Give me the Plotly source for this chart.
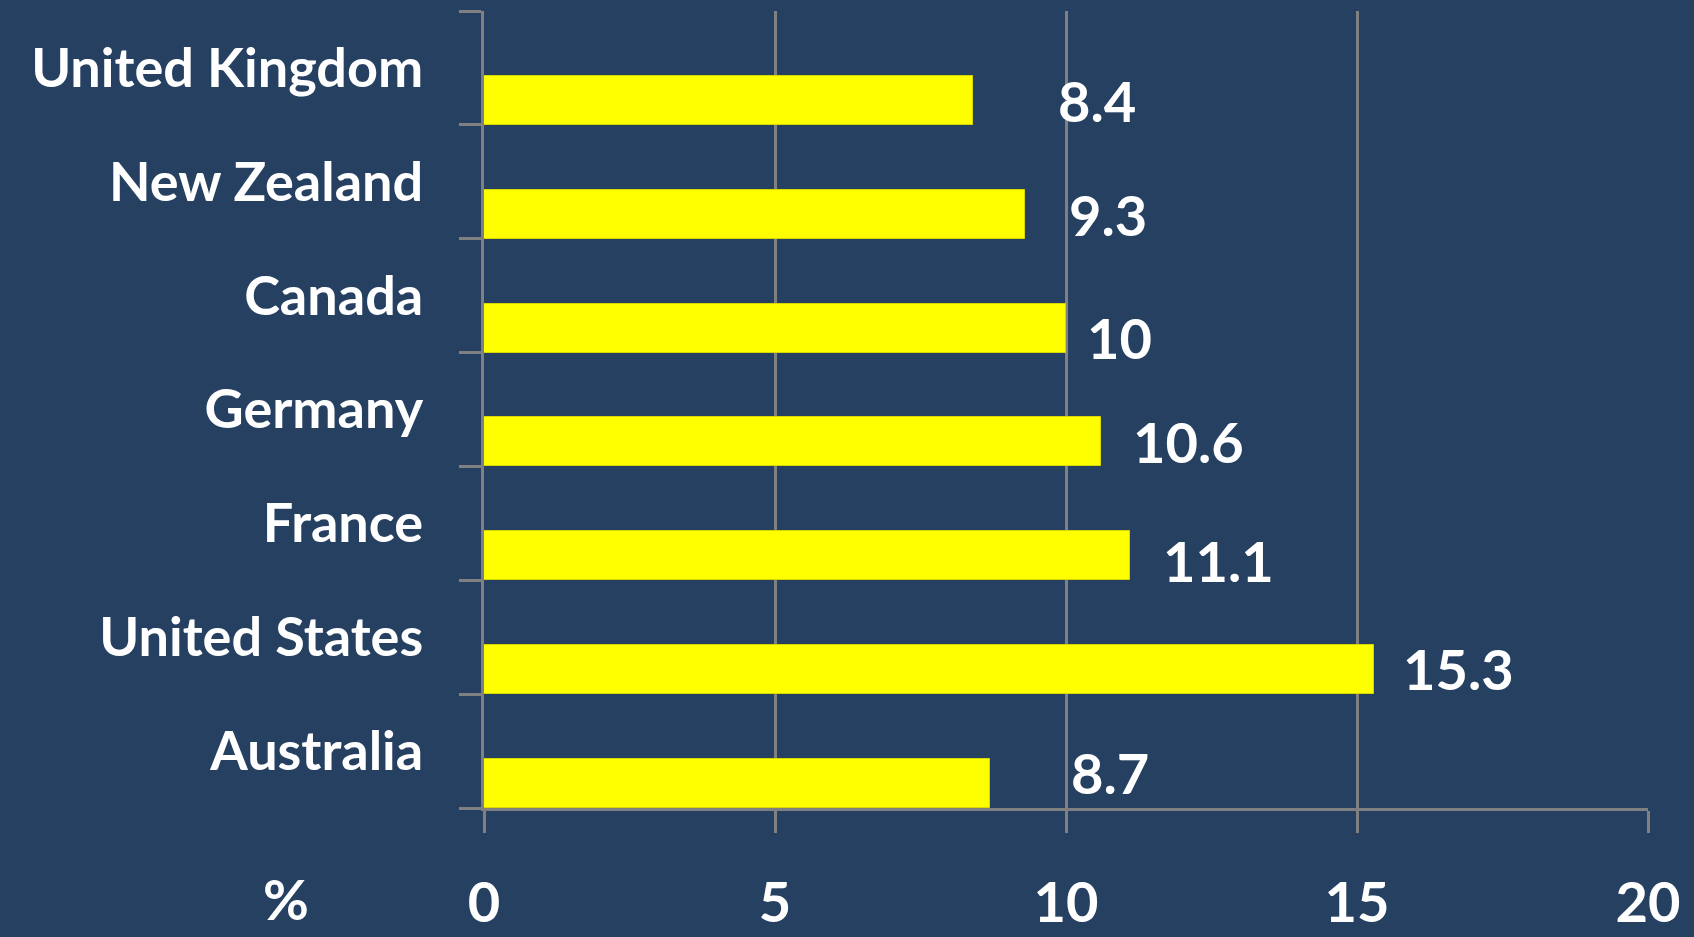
import plotly.graph_objects as go

countries = ["Australia", "United States", "France", "Germany", "Canada", "New Zealand", "United Kingdom"]
values = [8.7, 15.3, 11.1, 10.6, 10, 9.3, 8.4]
value_labels = ["8.7", "15.3", "11.1", "10.6", "10", "9.3", "8.4"]
x_ticks = [0, 5, 10, 15, 20]

# label nudges (pixels, positive = right / up), styling only
label_xshift = [79, 27, 31, 30, 19, 42, 83]
label_yshift = [11, 1, -5, 0, -9, 0, 0]

BG = "#264062"
GRID = "#808080"
FONT = "Lato"
BAR_W = 0.43
BAR_OFF = -0.5

fig = go.Figure()
fig.add_trace(go.Bar(
    y=countries, x=values, orientation="h",
    width=BAR_W, offset=BAR_OFF,
    marker=dict(color="#FFFF00", line=dict(color="#D8D800", width=1)),
    hoverinfo="x+y",
))

for i, (c, v, t) in enumerate(zip(countries, values, value_labels)):
    fig.add_annotation(
        x=v, y=i + BAR_OFF + BAR_W / 2, xref="x", yref="y",
        text=t, showarrow=False, xanchor="left", yanchor="middle",
        xshift=label_xshift[i], yshift=label_yshift[i],
        font=dict(family=FONT, size=56, color="white", weight=700),
    )

fig.add_annotation(
    x=-0.170, y=-0.113, xref="paper", yref="paper", text="%", showarrow=False,
    xanchor="center", yanchor="middle",
    font=dict(family=FONT, size=56, color="white", weight=700),
)

fig.update_layout(
    width=1694, height=937,
    paper_bgcolor=BG, plot_bgcolor=BG,
    margin=dict(l=484, r=46, t=11, b=129, autoexpand=False),
    showlegend=False,
    bargap=0,
    xaxis=dict(
        range=[0, 20], tickvals=x_ticks, ticktext=[str(t) for t in x_ticks],
        showgrid=True, gridcolor=GRID, gridwidth=3,
        zeroline=False, showline=True, linecolor=GRID, linewidth=3,
        ticks="outside", ticklen=22, tickwidth=3, tickcolor=GRID,
        ticklabelstandoff=22, automargin=False,
        tickfont=dict(family=FONT, size=56, color="white", weight=700),
        fixedrange=True,
    ),
    yaxis=dict(
        type="category", categoryorder="array", categoryarray=countries,
        range=[-0.5, len(countries) - 0.5],
        showgrid=False, zeroline=False, showline=True, linecolor=GRID, linewidth=3,
        ticks="outside", tickson="boundaries", ticklen=22, tickwidth=3, tickcolor=GRID,
        ticklabelstandoff=47, automargin=False,
        tickfont=dict(family=FONT, size=54, color="white", weight=700),
        fixedrange=True,
    ),
)

fig.write_html(
    "out.html",
    config={"displayModeBar": False},
    post_script="document.body.style.margin='0';document.body.style.background='#264062';",
)
